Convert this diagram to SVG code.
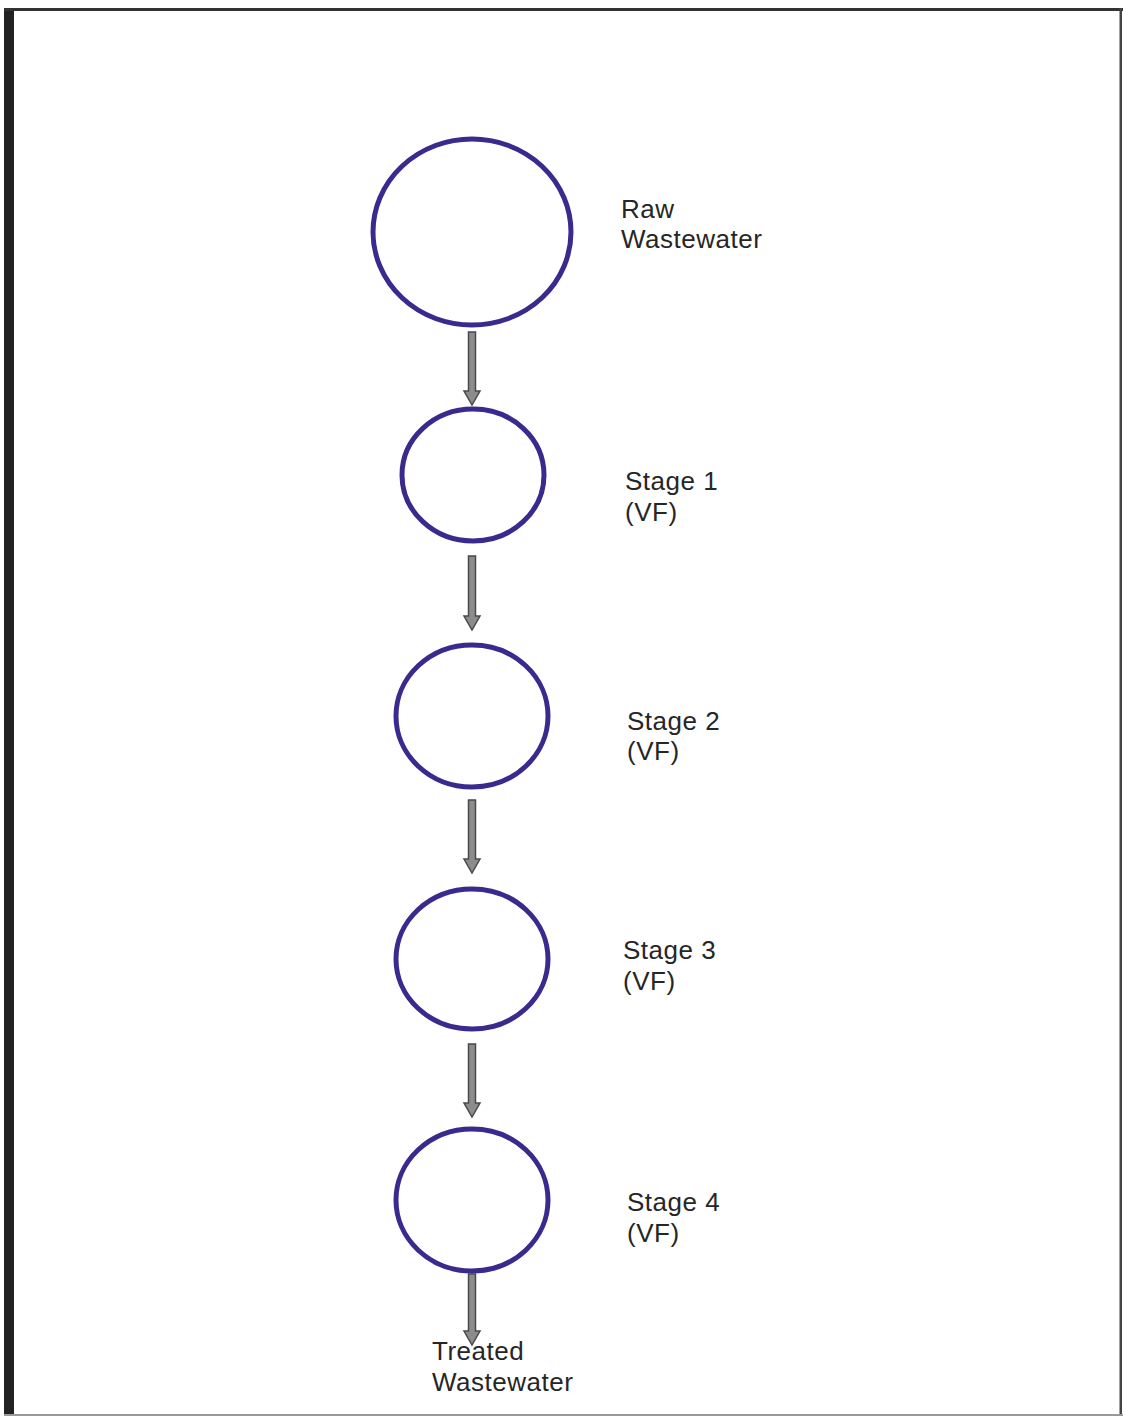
<svg xmlns="http://www.w3.org/2000/svg" width="1123" height="1416" viewBox="0 0 1123 1416">
<defs>
<style>
.node{fill:none;stroke:#3b2a8e;stroke-width:5}
.lbl{font-family:"Liberation Sans",Arial,sans-serif;font-size:26px;letter-spacing:0.5px;fill:#262626}
.shaft{fill:#8c8c8c;stroke:#4a4a4a;stroke-width:1.5}
</style>
</defs>
<rect width="1123" height="1416" fill="#fff"/>
<g id="border">
<rect x="4" y="8" width="10" height="1408" fill="#222"/>
<rect x="4" y="8" width="1119" height="3" fill="#333"/>
<rect x="1119.5" y="8" width="2.5" height="1408" fill="#444"/>
<rect x="4" y="1414" width="1119" height="2" fill="#999"/>
</g>
<g id="connectors">
<path class="shaft" d="M468.5,332 H475.5 V391 H480 L472,405 L464,391 H468.5 Z"/>
<path class="shaft" d="M468.5,556 H475.5 V616 H480 L472,630 L464,616 H468.5 Z"/>
<path class="shaft" d="M468.5,800 H475.5 V859 H480 L472,873 L464,859 H468.5 Z"/>
<path class="shaft" d="M468.5,1044 H475.5 V1103 H480 L472,1117 L464,1103 H468.5 Z"/>
<path class="shaft" d="M468.5,1274 H475.5 V1331 H480 L472,1345 L464,1331 H468.5 Z"/>
</g>
<g id="raw">
<ellipse class="node" cx="472" cy="232" rx="99" ry="93"/>
<text class="lbl" x="621" y="218">Raw</text>
<text class="lbl" x="621" y="248">Wastewater</text>
</g>
<g id="stage1">
<ellipse class="node" cx="473" cy="475" rx="71" ry="66"/>
<text class="lbl" x="625" y="490">Stage 1</text>
<text class="lbl" x="625" y="521">(VF)</text>
</g>
<g id="stage2">
<ellipse class="node" cx="472" cy="716" rx="76" ry="71"/>
<text class="lbl" x="627" y="730">Stage 2</text>
<text class="lbl" x="627" y="760">(VF)</text>
</g>
<g id="stage3">
<ellipse class="node" cx="472" cy="959" rx="76" ry="70"/>
<text class="lbl" x="623" y="959">Stage 3</text>
<text class="lbl" x="623" y="990">(VF)</text>
</g>
<g id="stage4">
<ellipse class="node" cx="472" cy="1200" rx="76" ry="71"/>
<text class="lbl" x="627" y="1211">Stage 4</text>
<text class="lbl" x="627" y="1242">(VF)</text>
</g>
<g id="treated">
<text class="lbl" x="432" y="1360">Treated</text>
<text class="lbl" x="432" y="1391">Wastewater</text>
</g>
</svg>
